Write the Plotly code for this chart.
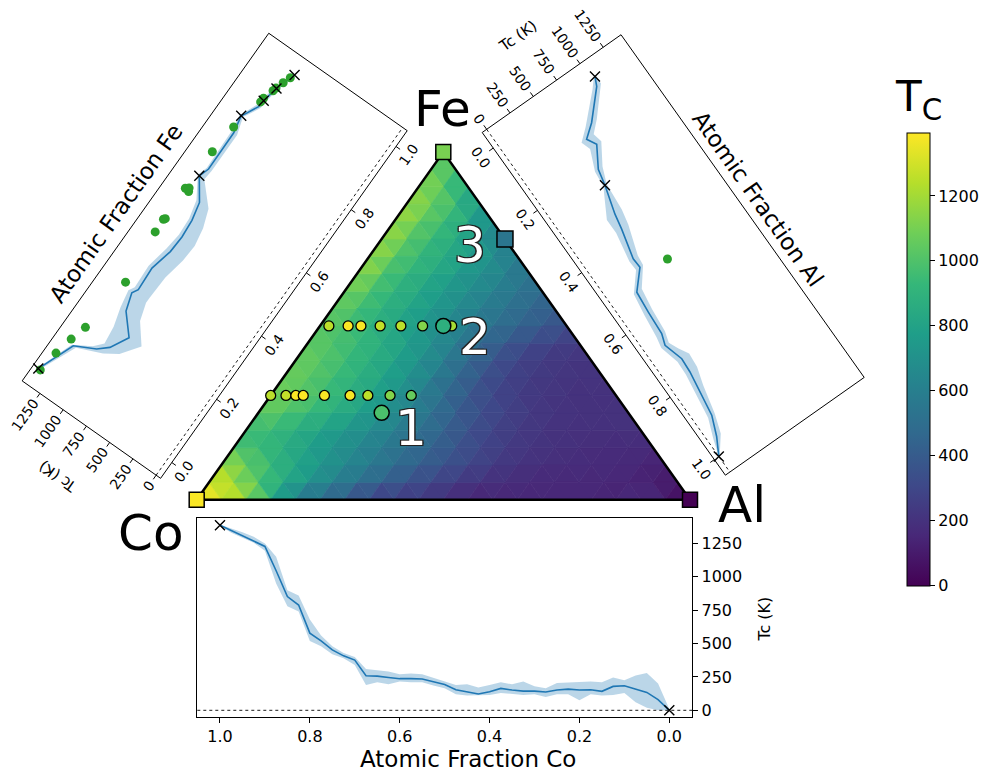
import numpy as np
import plotly.graph_objects as go
from plotly.colors import sample_colorscale

W, H = 989, 774
CMAX = 1395.0
FONT = "DejaVu Sans"
C0 = "#1f77b4"
BAND = "rgba(31,119,180,0.3)"
GREEN = "#2ca02c"

# ---------------- data ----------------
# Heatmap of Tc (K): rows of constant Fe fraction 0, 0.05, ... 1.0;
# each row runs over Al fraction 0, 0.05, ... up to 1 - Fe.
TC_ROWS = [
    [1388, 1310, 1228, 852, 578, 453, 376, 256, 237, 234, 194, 137, 139, 152, 144, 152, 152, 142, 184, 134, 0],
    [1320, 1170, 1000, 860, 720, 610, 510, 430, 350, 290, 240, 200, 180, 165, 160, 155, 150, 140, 120, 80],
    [1230, 1070, 930, 830, 740, 660, 580, 500, 430, 360, 300, 250, 210, 190, 180, 170, 165, 150, 130],
    [1000, 950, 870, 790, 715, 645, 575, 505, 440, 370, 300, 250, 220, 200, 185, 175, 170, 165],
    [930, 940, 870, 795, 735, 675, 600, 520, 430, 350, 280, 240, 215, 200, 190, 190, 200],
    [1045, 1010, 950, 875, 795, 710, 620, 520, 420, 340, 280, 240, 215, 205, 205, 215],
    [1100, 1040, 960, 890, 815, 720, 620, 480, 380, 300, 250, 220, 205, 195, 195],
    [1080, 1030, 960, 890, 815, 720, 600, 480, 370, 290, 250, 225, 215, 217],
    [1082, 1030, 950, 875, 800, 710, 600, 470, 360, 280, 240, 220, 210],
    [1035, 1000, 940, 870, 795, 700, 590, 480, 390, 320, 270, 245],
    [1030, 980, 900, 820, 740, 660, 580, 510, 450, 400, 340],
    [1060, 980, 900, 830, 760, 680, 600, 530, 470, 407],
    [1100, 990, 900, 825, 750, 680, 615, 550, 470],
    [1180, 1010, 920, 845, 770, 690, 615, 540],
    [1190, 1030, 935, 855, 780, 690, 560],
    [1190, 1040, 940, 850, 745, 600],
    [1200, 1060, 960, 840, 640],
    [1200, 1070, 940, 750],
    [1140, 1040, 820],
    [1100, 950],
    [1043],
]
GRID_N = 20

# Bottom panel: Tc along the Co-Al edge
CO_FRAC = [1.0, 0.975, 0.95, 0.925, 0.9, 0.875, 0.85, 0.825, 0.8, 0.775, 0.75, 0.725, 0.7, 0.675,
           0.65, 0.625, 0.6, 0.575, 0.55, 0.525, 0.5, 0.475, 0.45, 0.425, 0.4, 0.375, 0.35, 0.325,
           0.3, 0.275, 0.25, 0.225, 0.2, 0.175, 0.15, 0.125, 0.1, 0.075, 0.05, 0.025, 0.0]
CO_TC = [1387, 1347, 1310, 1272, 1228, 1046, 852, 789, 578, 520, 453, 408, 376, 259, 256, 246, 237,
         237, 234, 214, 194, 154, 137, 122, 139, 164, 152, 144, 144, 137, 152, 159, 152, 154, 142,
         179, 184, 159, 134, 80, 0]
CO_HI = [1390, 1365, 1335, 1300, 1250, 1150, 900, 860, 680, 560, 480, 430, 400, 310, 300, 290, 270,
         275, 270, 245, 215, 190, 195, 170, 190, 210, 195, 215, 180, 165, 205, 210, 215, 215, 210,
         245, 225, 260, 280, 200, 10]
CO_LO = [1385, 1330, 1290, 1255, 1195, 950, 780, 740, 520, 480, 420, 390, 340, 190, 210, 195, 215,
         210, 210, 185, 165, 120, 110, 110, 115, 130, 120, 115, 120, 100, 120, 120, 75, 120, 110,
         115, 130, 60, 20, 0, 0]
CO_REF_FRAC = [1.0, 0.0]
CO_REF_TC = [1387, 0]

# Left panel: Tc along the Co-Fe edge
FE_FRAC = [0.0, 0.1, 0.128, 0.151, 0.2, 0.2515, 0.299, 0.315, 0.381, 0.443, 0.491, 0.541, 0.59,
           0.646, 0.674, 0.788, 0.835, 0.845, 0.88, 0.9, 0.945, 1.0]
FE_TC = [1388, 1253, 1069, 982, 894, 1051, 1103, 1072, 1084, 1036, 1027, 1040, 1077, 1214, 1182,
         1186, 1219, 1199, 1141, 1134, 1105, 1043]
FE_LO = [1375, 1225, 1000, 880, 760, 900, 950, 950, 940, 900, 890, 920, 980, 1160, 1150, 1150, 1200,
         1180, 1120, 1115, 1090, 1035]
FE_HI = [1395, 1270, 1110, 1040, 1060, 1110, 1140, 1110, 1120, 1080, 1060, 1070, 1110, 1230, 1200,
         1210, 1235, 1215, 1165, 1155, 1120, 1055]
FE_REF_FRAC = [0.0, 0.646, 0.835, 0.9, 0.945, 1.0]
FE_REF_TC = [1388, 1214, 1219, 1134, 1105, 1043]
FE_EXP_FRAC = [0.0, 0.059, 0.111, 0.157, 0.312, 0.462, 0.501, 0.505, 0.597, 0.599, 0.605, 0.716,
               0.80, 0.893, 0.905, 0.935, 0.945, 0.967, 0.988]
FE_EXP_TC = [1367, 1340, 1302, 1260, 1202, 1245, 1250, 1240, 1211, 1251, 1225, 1243, 1216, 1150,
             1148, 1118, 1110, 1086, 1060]

# Right panel: Tc along the Fe-Al edge
AL_FRAC = [0.0, 0.024, 0.094, 0.122, 0.148, 0.204, 0.248, 0.325, 0.367, 0.448, 0.476, 0.525, 0.585,
           0.651, 0.681, 0.708, 0.735, 0.775, 0.824, 0.901, 0.954, 1.0]
AL_TC = [1043, 1005, 784, 664, 711, 595, 562, 487, 459, 391, 397, 247, 228, 215, 180, 205, 231, 223,
         199, 159, 86, 0]
AL_LO = [1030, 960, 720, 610, 640, 560, 545, 400, 400, 350, 355, 215, 185, 160, 140, 160, 185, 180,
         155, 120, 50, 0]
AL_HI = [1055, 1050, 840, 740, 760, 640, 580, 560, 530, 440, 430, 300, 270, 250, 220, 260, 310, 300,
         250, 190, 130, 10]
AL_REF_FRAC = [0.0, 0.248, 1.0]
AL_REF_TC = [1043, 562, 0]
AL_EXP_FRAC = [0.5]
AL_EXP_TC = [635]

# Measured samples inside the triangle
ROW_A_FE = 0.3
ROW_A_AL = [0.0, 0.031, 0.051, 0.066, 0.109, 0.161, 0.197, 0.242, 0.285]
ROW_A_TC = [1250, 1270, 1390, 1390, 1385, 1380, 1255, 1130, 1060]
ROW_B_FE = 0.5
ROW_B_AL = [0.018, 0.057, 0.083, 0.122, 0.164, 0.208, 0.267]
ROW_B_TC = [1255, 1390, 1385, 1265, 1250, 1130, 1210]

SAMPLE_LABELS = ["1", "2", "3"]
SAMPLE_FE = [0.25, 0.5, 0.75]
SAMPLE_AL = [0.25, 0.25, 0.25]
SAMPLE_TC = [990, 880, 545]

ELEMENTS = ["Co", "Fe", "Al"]
ELEMENT_FE = [0.0, 1.0, 0.0]
ELEMENT_AL = [0.0, 0.0, 1.0]
ELEMENT_TC = [1388, 1110, 0]

FRAC_TICKS = [0.0, 0.2, 0.4, 0.6, 0.8, 1.0]
TC_TICKS = [0, 250, 500, 750, 1000, 1250]
CB_TICKS = [0, 200, 400, 600, 800, 1000, 1200]

# ---------------- layout geometry (pixels) ----------------
V_CO = np.array([196.7, 501.7])
V_FE = np.array([443.3, 152.7])
V_AL = np.array([690.0, 501.7])


def tern(fe, al):
    fe = np.asarray(fe, float)
    al = np.asarray(al, float)
    co = 1.0 - fe - al
    x = co * V_CO[0] + fe * V_FE[0] + al * V_AL[0]
    y = co * V_CO[1] + fe * V_FE[1] + al * V_AL[1]
    return x, y


class Panel:
    def __init__(self, anchor, p_from, p_to, su, lv, tmin=-48.0, tmax=1441.0, fmin=-0.05, fmax=1.05):
        d = np.asarray(p_to, float) - np.asarray(p_from, float)
        self.eu = d / np.hypot(d[0], d[1])
        self.ev = np.array([self.eu[1], -self.eu[0]])
        self.A = np.asarray(anchor, float)
        self.su, self.lv = su, lv
        self.tmin, self.tmax, self.fmin, self.fmax = tmin, tmax, fmin, fmax
        self.ang_u = float(np.degrees(np.arctan2(self.eu[1], self.eu[0])))
        self.ang_v = float(np.degrees(np.arctan2(self.ev[1], self.ev[0])))

    def pt(self, f, t):
        return (self.A + (f - self.fmin) * self.su * self.eu
                + (t - self.tmin) / (self.tmax - self.tmin) * self.lv * self.ev)

    def xy(self, fs, ts):
        pts = [self.pt(f, t) for f, t in zip(fs, ts)]
        return [float(p[0]) for p in pts], [float(p[1]) for p in pts]


P_FE = Panel((160.6, 480.2), V_CO, V_FE, su=388.5, lv=169.5)
P_AL = Panel((482.2, 133.0), V_FE, V_AL, su=383.0, lv=170.0)

fig = go.Figure()
ann = []


def color_of(v):
    t = min(max(v / CMAX, 0.0), 1.0)
    t = round(t * 255) / 255
    return sample_colorscale("Viridis", [t])[0]


# ---------------- ternary heatmap ----------------
groups = {}


def add_tri(nodes):
    vals = [TC_ROWS[i][j] for i, j in nodes]
    c = color_of(sum(vals) / 3.0)
    fe = [i / GRID_N for i, j in nodes]
    al = [j / GRID_N for i, j in nodes]
    xs, ys = tern(fe, al)
    g = groups.setdefault(c, ([], []))
    g[0].extend([float(v) for v in xs] + [float(xs[0]), None])
    g[1].extend([float(v) for v in ys] + [float(ys[0]), None])


for i in range(GRID_N):
    for j in range(GRID_N - i):
        add_tri([(i, j), (i, j + 1), (i + 1, j)])
        if i + j <= GRID_N - 2:
            add_tri([(i + 1, j), (i, j + 1), (i + 1, j + 1)])

for c, (xs, ys) in groups.items():
    fig.add_trace(go.Scatter(x=xs, y=ys, mode="lines", fill="toself", fillcolor=c,
                             line=dict(color=c, width=0.7), hoverinfo="skip", showlegend=False))

tx, ty = tern([0, 1, 0, 0], [0, 0, 1, 0])
fig.add_trace(go.Scatter(x=tx, y=ty, mode="lines", line=dict(color="black", width=2.5),
                         hoverinfo="skip", showlegend=False))

# ---------------- rotated side panels ----------------
TICK_LEN = 5
PANEL_TICK_FS = 14


def digits_width(s, fs):
    return fs * sum(0.318 if ch == "." else 0.636 for ch in s)


def draw_panel(P, frac, tc, lo, hi, ref_f, ref_t, exp_f, exp_t, title, shift_u, shift_v):
    fx, fy = P.xy([P.fmin, P.fmax, P.fmax, P.fmin, P.fmin], [P.tmin, P.tmin, P.tmax, P.tmax, P.tmin])
    fig.add_trace(go.Scatter(x=fx, y=fy, mode="lines", line=dict(color="black", width=1),
                             hoverinfo="skip", showlegend=False))
    zx, zy = P.xy([P.fmin, P.fmax], [0, 0])
    fig.add_trace(go.Scatter(x=zx, y=zy, mode="lines", line=dict(color="black", width=0.9, dash="dot"),
                             hoverinfo="skip", showlegend=False))
    bx, by = P.xy(list(frac) + list(frac)[::-1], list(hi) + list(lo)[::-1])
    fig.add_trace(go.Scatter(x=bx, y=by, mode="lines", fill="toself", fillcolor=BAND,
                             line=dict(width=0), hoverinfo="skip", showlegend=False))
    lx, ly = P.xy(frac, tc)
    fig.add_trace(go.Scatter(x=lx, y=ly, mode="lines", line=dict(color=C0, width=1.6),
                             hoverinfo="skip", showlegend=False))
    ex, ey = P.xy(exp_f, exp_t)
    fig.add_trace(go.Scatter(x=ex, y=ey, mode="markers", marker=dict(color=GREEN, size=9),
                             hoverinfo="skip", showlegend=False))
    rx, ry = P.xy(ref_f, ref_t)
    fig.add_trace(go.Scatter(x=rx, y=ry, mode="markers",
                             marker=dict(symbol="x-thin", size=10, line=dict(color="black", width=1.4)),
                             hoverinfo="skip", showlegend=False))
    # ticks
    sx, sy = [], []
    for f in FRAC_TICKS:
        p0 = P.pt(f, P.tmin)
        p1 = p0 - P.ev * TICK_LEN
        sx += [p0[0], p1[0], None]
        sy += [p0[1], p1[1], None]
        lab = f"{f:.1f}"
        c = p0 - P.ev * (TICK_LEN + 3.5 + 0.5 * PANEL_TICK_FS)
        ann.append(dict(x=c[0], y=c[1], text=lab, textangle=P.ang_u, showarrow=False,
                        xanchor="center", yanchor="middle",
                        font=dict(size=PANEL_TICK_FS, color="black")))
    for t in TC_TICKS:
        p0 = P.pt(P.fmin, t)
        p1 = p0 - P.eu * TICK_LEN
        sx += [p0[0], p1[0], None]
        sy += [p0[1], p1[1], None]
        lab = str(t)
        c = p0 - P.eu * (TICK_LEN + 3.5 + 0.5 * digits_width(lab, PANEL_TICK_FS))
        ann.append(dict(x=c[0], y=c[1], text=lab, textangle=P.ang_u, showarrow=False,
                        xanchor="center", yanchor="middle",
                        font=dict(size=PANEL_TICK_FS, color="black")))
    fig.add_trace(go.Scatter(x=sx, y=sy, mode="lines", line=dict(color="black", width=1),
                             hoverinfo="skip", showlegend=False))
    c = P.pt(P.fmin, 0.5 * (P.tmin + P.tmax)) - P.eu * 58
    ann.append(dict(x=c[0], y=c[1], text="Tc (K)", textangle=P.ang_v, showarrow=False,
                    xanchor="center", yanchor="middle", font=dict(size=15, color="black")))
    c = P.pt(0.5, P.tmax) + P.ev * shift_v + P.eu * shift_u
    ann.append(dict(x=c[0], y=c[1], text=title, textangle=P.ang_u, showarrow=False,
                    xanchor="center", yanchor="middle", font=dict(size=23, color="black")))


draw_panel(P_FE, FE_FRAC, FE_TC, FE_LO, FE_HI, FE_REF_FRAC, FE_REF_TC, FE_EXP_FRAC, FE_EXP_TC,
           "Atomic Fraction Fe", -22, 20)
draw_panel(P_AL, AL_FRAC, AL_TC, AL_LO, AL_HI, AL_REF_FRAC, AL_REF_TC, AL_EXP_FRAC, AL_EXP_TC,
           "Atomic Fraction Al", 3, 17)

# ---------------- markers inside the triangle ----------------
mk = dict(colorscale="Viridis", cmin=0, cmax=CMAX)
for fe_row, als, tcs in [(ROW_A_FE, ROW_A_AL, ROW_A_TC), (ROW_B_FE, ROW_B_AL, ROW_B_TC)]:
    x, y = tern([fe_row] * len(als), als)
    fig.add_trace(go.Scatter(x=x, y=y, mode="markers",
                             marker=dict(size=10, color=tcs, line=dict(color="black", width=1.3), **mk),
                             hoverinfo="skip", showlegend=False))

x, y = tern(SAMPLE_FE[:2], SAMPLE_AL[:2])
fig.add_trace(go.Scatter(x=x, y=y, mode="markers",
                         marker=dict(size=15, color=SAMPLE_TC[:2], line=dict(color="black", width=1.5), **mk),
                         hoverinfo="skip", showlegend=False))
x, y = tern(SAMPLE_FE[2:], SAMPLE_AL[2:])
fig.add_trace(go.Scatter(x=x, y=y, mode="markers",
                         marker=dict(size=16, symbol="square", color=SAMPLE_TC[2:],
                                     line=dict(color="black", width=1.5), **mk),
                         hoverinfo="skip", showlegend=False))

x, y = tern(ELEMENT_FE, ELEMENT_AL)
fig.add_trace(go.Scatter(
    x=x, y=y, mode="markers",
    marker=dict(size=15, symbol="square", color=ELEMENT_TC, line=dict(color="black", width=1.5),
                showscale=True,
                colorbar=dict(x=907 / W, xanchor="left", y=1 - 360.5 / H, yanchor="middle",
                              len=455 / H, lenmode="fraction", thickness=23, thicknessmode="pixels",
                              outlinewidth=1, outlinecolor="black", ticks="outside", ticklen=5,
                              tickwidth=1, tickcolor="black", tickvals=CB_TICKS,
                              tickfont=dict(size=16, color="black"), xpad=0, ypad=0),
                **mk),
    hoverinfo="skip", showlegend=False))

# sample labels (white, outlined)
LABEL_OFFSETS = [(29, 15), (32, 11), (-35, 6)]
sx, sy = tern(SAMPLE_FE, SAMPLE_AL)
OUTLINE = "-1.3px -1.3px 0 #222, 1.3px -1.3px 0 #222, -1.3px 1.3px 0 #222, 1.3px 1.3px 0 #222"
for lab, px, py, (dx, dy) in zip(SAMPLE_LABELS, sx, sy, LABEL_OFFSETS):
    ann.append(dict(x=float(px) + dx, y=float(py) + dy, text=lab, showarrow=False,
                    xanchor="center", yanchor="middle",
                    font=dict(size=50, color="white", shadow=OUTLINE)))

ELEM_OFFSETS = [(-46, 33), (-1, -43), (52, 5)]
ex, ey = tern(ELEMENT_FE, ELEMENT_AL)
for lab, px, py, (dx, dy) in zip(ELEMENTS, ex, ey, ELEM_OFFSETS):
    ann.append(dict(x=float(px) + dx, y=float(py) + dy, text=lab, showarrow=False,
                    xanchor="center", yanchor="middle", font=dict(size=50, color="black")))

# colorbar title
ann.append(dict(x=918, y=100, text="T<sub>C</sub>", showarrow=False, xanchor="center",
                yanchor="middle", font=dict(size=42, color="black")))

for a in ann:
    a.setdefault("xref", "x")
    a.setdefault("yref", "y")

# ---------------- bottom panel (real axes) ----------------
fig.add_trace(go.Scatter(x=CO_FRAC + CO_FRAC[::-1], y=CO_HI + CO_LO[::-1], mode="lines",
                         fill="toself", fillcolor=BAND, line=dict(width=0),
                         xaxis="x2", yaxis="y2", hoverinfo="skip", showlegend=False))
fig.add_trace(go.Scatter(x=CO_FRAC, y=CO_TC, mode="lines", line=dict(color=C0, width=1.6),
                         xaxis="x2", yaxis="y2", hoverinfo="skip", showlegend=False))
fig.add_trace(go.Scatter(x=CO_REF_FRAC, y=CO_REF_TC, mode="markers",
                         marker=dict(symbol="x-thin", size=10, line=dict(color="black", width=1.4)),
                         xaxis="x2", yaxis="y2", hoverinfo="skip", showlegend=False))

ann.append(dict(x=468, y=762, xref="x", yref="y", text="Atomic Fraction Co", showarrow=False,
                xanchor="center", yanchor="middle", font=dict(size=23, color="black")))
ann.append(dict(x=765, y=622, xref="x", yref="y", text="Tc (K)", textangle=-90, showarrow=False,
                xanchor="center", yanchor="middle", font=dict(size=16, color="black")))

fig.update_layout(
    width=W, height=H, margin=dict(l=0, r=0, t=0, b=0),
    paper_bgcolor="white", plot_bgcolor="rgba(0,0,0,0)",
    font=dict(family=FONT, color="black"),
    showlegend=False,
    xaxis=dict(domain=[0, 1], range=[0, W], visible=False, fixedrange=True),
    yaxis=dict(domain=[0, 1], range=[H, 0], visible=False, fixedrange=True),
    xaxis2=dict(domain=[197.3 / W, 692.3 / W], anchor="y2", range=[1.0505, -0.0512],
                tickvals=FRAC_TICKS, ticktext=[f"{v:.1f}" for v in FRAC_TICKS],
                ticks="outside", ticklen=5, tickwidth=1, tickcolor="black",
                showline=True, linecolor="black", linewidth=1, mirror=True,
                showgrid=False, zeroline=False, tickfont=dict(size=16)),
    yaxis2=dict(domain=[(H - 719.5) / H, (H - 520.0) / H], anchor="x2", side="right",
                range=[-48, 1441], tickvals=TC_TICKS,
                ticks="outside", ticklen=5, tickwidth=1, tickcolor="black",
                showline=True, linecolor="black", linewidth=1, mirror=True,
                showgrid=False, zeroline=False, tickfont=dict(size=16)),
    shapes=[dict(type="line", xref="x2 domain", x0=0, x1=1, yref="y2", y0=0, y1=0,
                 line=dict(color="black", width=0.9, dash="dot"))],
    annotations=ann,
)

fig.write_html("out.html", config={"displayModeBar": False},
               post_script="document.body.style.margin='0px';document.body.style.padding='0px';")
